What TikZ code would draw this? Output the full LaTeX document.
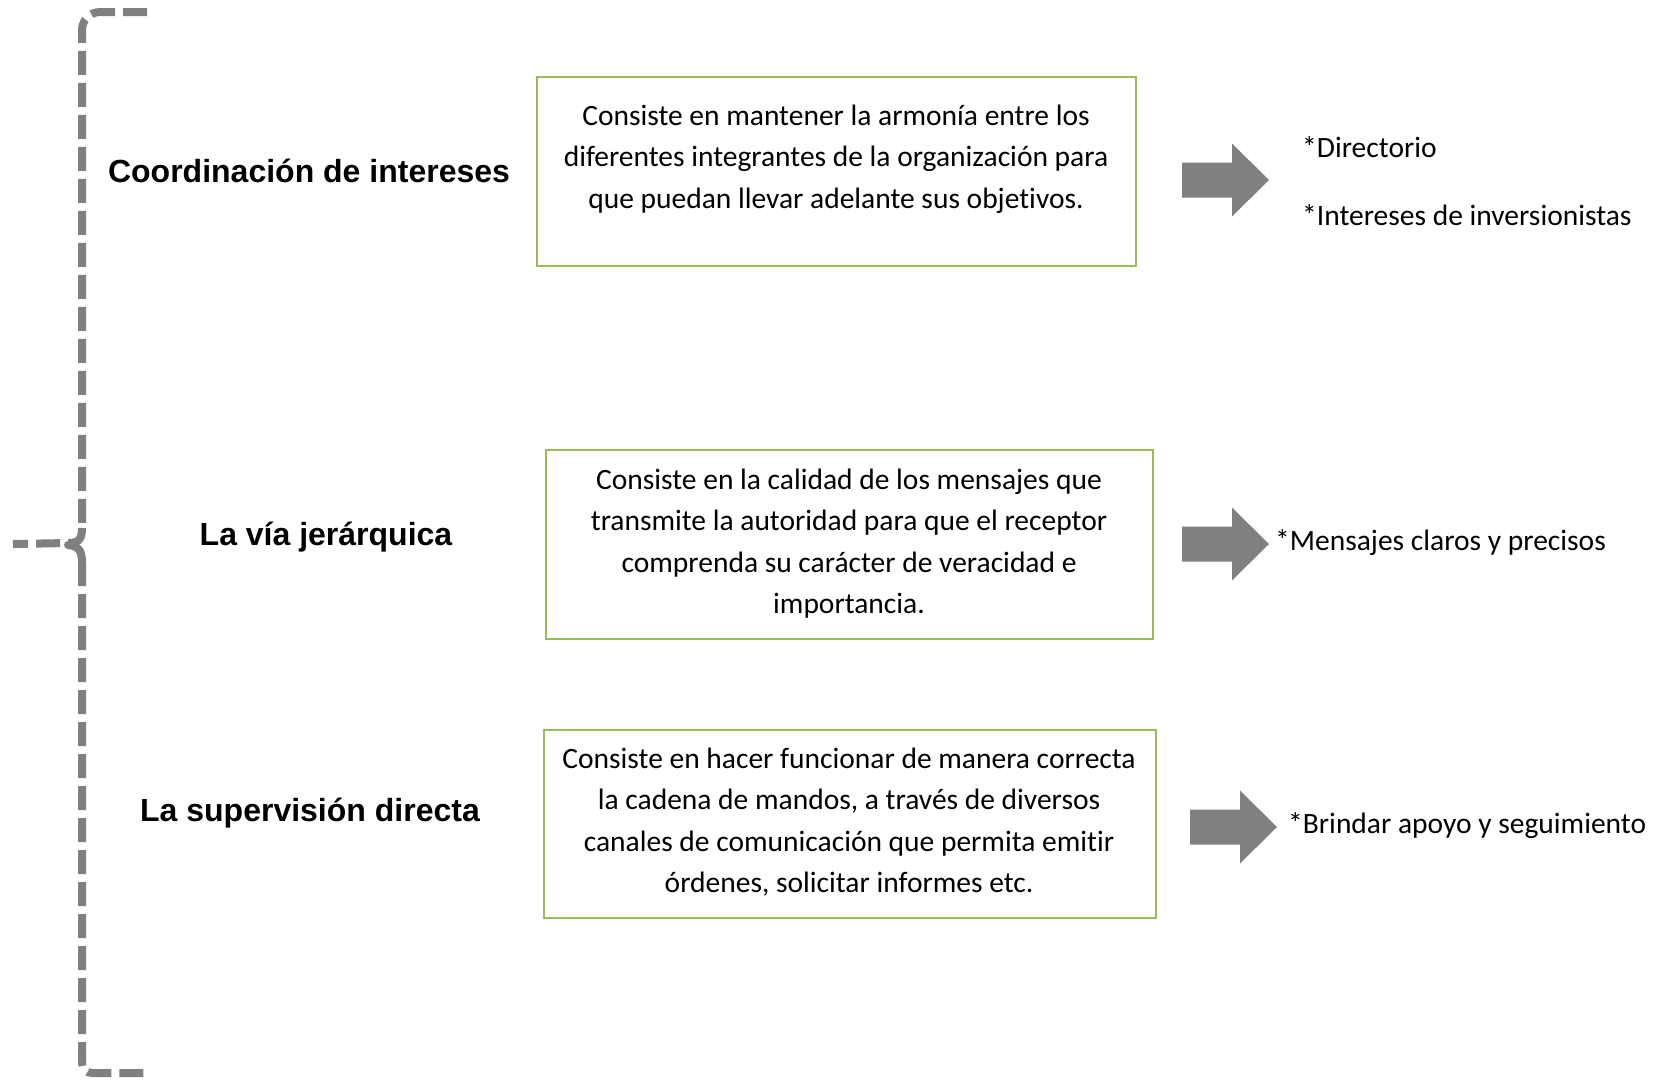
\documentclass[tikz,border=0pt]{standalone}
\usepackage{fontspec}
\setmainfont{Carlito}[Ligatures=NoCommon]
\newfontfamily\arialfont{Liberation Sans}
\definecolor{boxgreen}{HTML}{9BBB59}
\definecolor{braceg}{HTML}{808080}
\begin{document}
\begin{tikzpicture}[x=1pt,y=-1pt,
  bracestyle/.style={draw=braceg,line width=8pt,dash pattern=on 24pt off 8pt},
  greenbox/.style={draw=boxgreen,line width=2pt,inner sep=0pt},
  bodytext/.style={align=center,font=\fontsize{29.5}{41.5}\selectfont,inner sep=0pt},
  headlabel/.style={font=\arialfont\bfseries\fontsize{32}{38}\selectfont,anchor=base,inner sep=0pt},
  sidetext/.style={font=\fontsize{29.5}{35}\selectfont,anchor=base west,inner sep=0pt},
  blockarrow/.style={fill=braceg}]
\useasboundingbox (0,0) rectangle (1668,1080);

% brace
\draw[bracestyle,rounded corners=18pt] (147,12) -- (82,12) -- (82,528);
\draw[bracestyle] (82,528) .. controls (82,540) and (78,543) .. (68,543) -- (13,544);
\draw[bracestyle,line cap=round] (68,545) .. controls (78,546) and (82,550) .. (82,562);
\draw[bracestyle,rounded corners=10pt] (82,562) -- (82,1073) -- (147,1073);

% left labels
\node[headlabel] (l1) at (309,182) {Coordinación de intereses};
\node[headlabel] (l2) at (326,545) {La vía jerárquica};
\node[headlabel] (l3) at (310,821) {La supervisión directa};

% boxes
\node[greenbox,minimum width=599pt,minimum height=189pt] (b1) at (836.5,171.5) {};
\node[greenbox,minimum width=607pt,minimum height=189pt] (b2) at (849.5,544.5) {};
\node[greenbox,minimum width=612pt,minimum height=188pt] (b3) at (850,824) {};

\node[bodytext] (t1) at (836,159) {Consiste en mantener la armonía entre los\\diferentes integrantes de la organización para\\que puedan llevar adelante sus objetivos.};
\node[bodytext] (t2) at (849,543.5) {Consiste en la calidad de los mensajes que\\transmite la autoridad para que el receptor\\comprenda su carácter de veracidad e\\importancia.};
\node[bodytext] (t3) at (849,822) {Consiste en hacer funcionar de manera correcta\\la cadena de mandos, a través de diversos\\canales de comunicación que permita emitir\\órdenes, solicitar informes etc.};

% block arrows
\fill[blockarrow] (1182,162.5) -- (1232,162.5) -- (1232,143.5) -- (1269,180) -- (1232,216.5) -- (1232,197.5) -- (1182,197.5) -- cycle;
\fill[blockarrow] (1182,526.5) -- (1232,526.5) -- (1232,507.5) -- (1269,544) -- (1232,580.5) -- (1232,561.5) -- (1182,561.5) -- cycle;
\fill[blockarrow] (1190,809.5) -- (1240,809.5) -- (1240,790.5) -- (1277,827) -- (1240,863.5) -- (1240,844.5) -- (1190,844.5) -- cycle;

% side texts
\node[sidetext] (s1) at (1302,157) {*Directorio};
\node[sidetext] (s2) at (1302,225) {*Intereses de inversionistas};
\node[sidetext] (s3) at (1275,550) {*Mensajes claros y precisos};
\node[sidetext] (s4) at (1288,833) {*Brindar apoyo y seguimiento};
\end{tikzpicture}
\end{document}
